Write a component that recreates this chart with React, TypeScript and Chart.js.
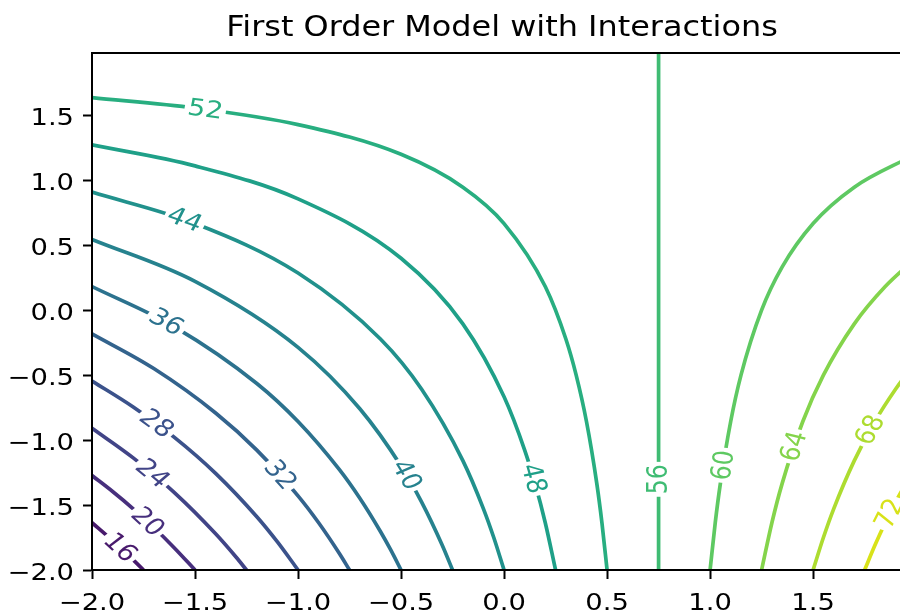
import React, { useEffect, useRef } from "react";
import { Chart, registerables } from "chart.js";

Chart.register(...registerables);

// ---------------- data ----------------
const TITLE = "First Order Model with Interactions";
const X_MIN = -2.0;
const X_MAX = 1.98;
const Y_MIN = -2.0;
const Y_MAX = 1.98;
const X_TICKS = [-2.0, -1.5, -1.0, -0.5, 0.0, 0.5, 1.0, 1.5];
const Y_TICKS = [-2.0, -1.5, -1.0, -0.5, 0.0, 0.5, 1.0, 1.5];

const LEVELS = [16, 20, 24, 28, 32, 36, 40, 44, 48, 52, 56, 60, 64, 68, 72];

// points, [x, y]
const level16: [number, number][] = [
  [-2.0, -1.636], [-1.9, -1.774], [-1.8, -1.922], [-1.75, -2.0],
];
const level20: [number, number][] = [
  [-2.0, -1.273], [-1.9, -1.396], [-1.8, -1.529], [-1.7, -1.673], [-1.6, -1.83], [-1.5, -2.0],
];
const level24: [number, number][] = [
  [-2.0, -0.909], [-1.8, -1.137], [-1.6, -1.404], [-1.4, -1.721], [-1.3, -1.902], [-1.25, -2.0],
];
const level28: [number, number][] = [
  [-2.0, -0.545], [-1.8, -0.745], [-1.6, -0.979], [-1.4, -1.256], [-1.2, -1.59], [-1.1, -1.784], [-1.0, -2.0],
];
const level32: [number, number][] = [
  [-2.0, -0.182], [-1.7, -0.449], [-1.4, -0.791], [-1.2, -1.077], [-1.0, -1.429], [-0.9, -1.636], [-0.8, -1.871], [-0.75, -2.0],
];
const level36: [number, number][] = [
  [-2.0, 0.182], [-1.6, -0.128], [-1.2, -0.564], [-1.0, -0.857], [-0.8, -1.226], [-0.7, -1.448], [-0.6, -1.704], [-0.55, -1.846], [-0.5, -2.0],
];
const level40: [number, number][] = [
  [-2.0, 0.545], [-1.5, 0.222], [-1.0, -0.286], [-0.7, -0.759], [-0.5, -1.2], [-0.4, -1.478], [-0.3, -1.81], [-0.25, -2.0],
];
const level44: [number, number][] = [
  [-2.0, 0.909], [-1.5, 0.667], [-1.0, 0.286], [-0.6, -0.222], [-0.4, -0.609], [-0.2, -1.158], [-0.1, -1.529], [-0.05, -1.75], [0.0, -2.0],
];
const level48: [number, number][] = [
  [-2.0, 1.273], [-1.5, 1.111], [-1.0, 0.857], [-0.5, 0.4], [-0.2, -0.105], [0.0, -0.667], [0.1, -1.077], [0.15, -1.333], [0.2, -1.636], [0.25, -2.0],
];
const level52: [number, number][] = [
  [-2.0, 1.636], [-1.5, 1.556], [-1.0, 1.429], [-0.5, 1.2], [-0.2, 0.947], [0.0, 0.667], [0.2, 0.182], [0.3, -0.222], [0.35, -0.5], [0.4, -0.857], [0.45, -1.333], [0.475, -1.636], [0.5, -2.0],
];
const level56: [number, number][] = [
  [0.75, -2.0], [0.75, 1.98],
];
const level60: [number, number][] = [
  [1.0, -2.0], [1.025, -1.636], [1.05, -1.333], [1.1, -0.857], [1.15, -0.5], [1.25, 0.0], [1.35, 0.333], [1.5, 0.667], [1.7, 0.947], [1.98, 1.187],
];
const level64: [number, number][] = [
  [1.25, -2.0], [1.3, -1.636], [1.35, -1.333], [1.45, -0.857], [1.55, -0.5], [1.7, -0.105], [1.85, 0.182], [1.98, 0.374],
];
const level68: [number, number][] = [
  [1.5, -2.0], [1.55, -1.75], [1.6, -1.529], [1.7, -1.158], [1.8, -0.857], [1.9, -0.609], [1.98, -0.439],
];
const level72: [number, number][] = [
  [1.75, -2.0], [1.8, -1.81], [1.85, -1.636], [1.9, -1.478], [1.98, -1.252],
];

const CONTOUR_POINTS = [
  level16, level20, level24, level28, level32, level36, level40, level44,
  level48, level52, level56, level60, level64, level68, level72,
];

// ---------------- styling ----------------
const LEVEL_COLORS = [
  "#481a6c", "#472f7d", "#414487", "#3b528b", "#33638d", "#2c728e", "#26828e", "#21918c",
  "#1fa088", "#28ae80", "#3fbc73", "#5ec962", "#84d44b", "#addc30", "#d8e219",
];
// approximate spot (in data units) where each inline label sits
const LABEL_AT: [number, number][] = [
  [-1.865, -1.826], [-1.73, -1.632], [-1.71, -1.253], [-1.686, -0.873], [-1.087, -1.266],
  [-1.637, -0.095], [-0.472, -1.273], [-1.558, 0.7], [0.14, -1.295], [-1.45, 1.546],
  [0.75, -1.32], [1.063, -1.19], [1.405, -1.04], [1.778, -0.918], [1.87, -1.563],
];

const FONT = '"DejaVu Sans", "Liberation Sans", sans-serif';
const SX = 1.19; // horizontal stretch of the reference text
const TICK_FONT = 23;
const LABEL_FONT = 23.5;
const TITLE_FONT = 27.5;
const TITLE_SX = 1.16;

const fmt = (v: number) => v.toFixed(1).replace("-", "\u2212");

function drawText(ctx: CanvasRenderingContext2D, text: string, x: number, y: number, sx: number, align: CanvasTextAlign, size: number) {
  ctx.save();
  ctx.translate(x, y);
  ctx.scale(sx, 1);
  ctx.font = `${size}px ${FONT}`;
  ctx.textAlign = align;
  ctx.textBaseline = "alphabetic";
  ctx.fillStyle = "#000";
  ctx.fillText(text, 0, 0);
  ctx.restore();
}

const contourLabels = {
  id: "contourLabels",
  afterDatasetsDraw(chart: any) {
    const ctx: CanvasRenderingContext2D = chart.ctx;
    const area = chart.chartArea;
    const xs = chart.scales.x;
    const ys = chart.scales.y;
    ctx.save();
    ctx.beginPath();
    ctx.rect(area.left, area.top, area.right - area.left, area.bottom - area.top);
    ctx.clip();
    chart.data.datasets.forEach((ds: any, i: number) => {
      const meta = chart.getDatasetMeta(i);
      const pts: any[] = meta.data;
      const samples: { x: number; y: number }[] = [];
      for (let j = 0; j < pts.length - 1; j++) {
        const a = pts[j];
        const b = pts[j + 1];
        const c1x = a.cp2x ?? a.x, c1y = a.cp2y ?? a.y;
        const c2x = b.cp1x ?? b.x, c2y = b.cp1y ?? b.y;
        const N = 30;
        for (let s = 0; s < N; s++) {
          const t = s / N;
          const u = 1 - t;
          samples.push({
            x: u * u * u * a.x + 3 * u * u * t * c1x + 3 * u * t * t * c2x + t * t * t * b.x,
            y: u * u * u * a.y + 3 * u * u * t * c1y + 3 * u * t * t * c2y + t * t * t * b.y,
          });
        }
      }
      const last = pts[pts.length - 1];
      samples.push({ x: last.x, y: last.y });
      const tx = xs.getPixelForValue(LABEL_AT[i][0]);
      const ty = ys.getPixelForValue(LABEL_AT[i][1]);
      let best = 0;
      let bd = Infinity;
      samples.forEach((p, k) => {
        const d = (p.x - tx) ** 2 + (p.y - ty) ** 2;
        if (d < bd) { bd = d; best = k; }
      });
      // tangent direction
      let k0 = best, k1 = best;
      while (k0 > 0 && Math.hypot(samples[best].x - samples[k0].x, samples[best].y - samples[k0].y) < 8) k0--;
      while (k1 < samples.length - 1 && Math.hypot(samples[k1].x - samples[best].x, samples[k1].y - samples[best].y) < 8) k1++;
      const dx = samples[k1].x - samples[k0].x;
      const dy = samples[k1].y - samples[k0].y;
      let ang = Math.atan2(dy, dx / SX);
      if (ang >= Math.PI / 2 - 1e-6) ang -= Math.PI;
      if (ang < -Math.PI / 2 - 1e-6) ang += Math.PI;
      const text = String(LEVELS[i]);
      ctx.save();
      ctx.translate(samples[best].x, samples[best].y);
      ctx.scale(SX, 1);
      ctx.rotate(ang);
      ctx.font = `${LABEL_FONT}px ${FONT}`;
      const w = ctx.measureText(text).width;
      ctx.fillStyle = "#ffffff";
      ctx.fillRect(-w / 2 - 2.5, -5, w + 5, 10);
      ctx.fillStyle = ds.borderColor;
      ctx.textAlign = "center";
      ctx.textBaseline = "middle";
      ctx.fillText(text, 0, 1);
      ctx.restore();
    });
    ctx.restore();
  },
};

const frameAndText = {
  id: "frameAndText",
  afterDraw(chart: any) {
    const ctx: CanvasRenderingContext2D = chart.ctx;
    const a = chart.chartArea;
    const xs = chart.scales.x;
    const ys = chart.scales.y;
    ctx.save();
    ctx.strokeStyle = "#000";
    ctx.lineWidth = 2;
    ctx.strokeRect(a.left, a.top, a.right - a.left, a.bottom - a.top);
    ctx.restore();
    X_TICKS.forEach((v) => {
      drawText(ctx, fmt(v), xs.getPixelForValue(v), 610, SX, "center", TICK_FONT);
    });
    Y_TICKS.forEach((v) => {
      drawText(ctx, fmt(v), 74, ys.getPixelForValue(v) + 9.5, SX, "right", TICK_FONT);
    });
    drawText(ctx, TITLE, (a.left + a.right) / 2, 36, TITLE_SX, "center", TITLE_FONT);
  },
};

export default function App() {
  const ref = useRef<HTMLCanvasElement>(null);
  useEffect(() => {
    const datasets = CONTOUR_POINTS.map((pts, i) => ({
      label: String(LEVELS[i]),
      data: pts.map(([x, y]) => ({ x, y })),
      showLine: true,
      borderColor: LEVEL_COLORS[i],
      backgroundColor: LEVEL_COLORS[i],
      borderWidth: 3.7,
      pointRadius: 0,
      pointHoverRadius: 0,
      fill: false,
      clip: 0,
      cubicInterpolationMode: pts.length > 2 ? ("monotone" as const) : ("default" as const),
      tension: 0,
    }));
    const chart = new Chart(ref.current as HTMLCanvasElement, {
      type: "scatter",
      data: { datasets },
      options: {
        animation: false,
        responsive: false,
        devicePixelRatio: 1,
        events: [],
        layout: { padding: { top: 53, left: 0, right: 0, bottom: 0 } },
        plugins: {
          legend: { display: false },
          tooltip: { enabled: false },
          title: { display: false },
        },
        scales: {
          x: {
            type: "linear",
            min: X_MIN,
            max: X_MAX,
            afterBuildTicks: (s: any) => { s.ticks = X_TICKS.map((v) => ({ value: v })); },
            afterFit: (s: any) => { s.height = 43; },
            ticks: { display: false },
            grid: { drawOnChartArea: false, drawTicks: true, tickLength: 9, tickWidth: 2, tickColor: "#000" },
            border: { display: true, color: "#000", width: 2 },
          },
          y: {
            type: "linear",
            min: Y_MIN,
            max: Y_MAX,
            afterBuildTicks: (s: any) => { s.ticks = Y_TICKS.map((v) => ({ value: v })); },
            afterFit: (s: any) => { s.width = 92; },
            ticks: { display: false },
            grid: { drawOnChartArea: false, drawTicks: true, tickLength: 9, tickWidth: 2, tickColor: "#000" },
            border: { display: true, color: "#000", width: 2 },
          },
        },
      },
      plugins: [contourLabels, frameAndText],
    } as any);
    return () => chart.destroy();
  }, []);
  return (
    <div style={{ position: "absolute", left: 0, top: 0, width: 900, height: 613, overflow: "hidden", background: "#fff" }}>
      <canvas ref={ref} width={912} height={613} style={{ display: "block" }} />
    </div>
  );
}
